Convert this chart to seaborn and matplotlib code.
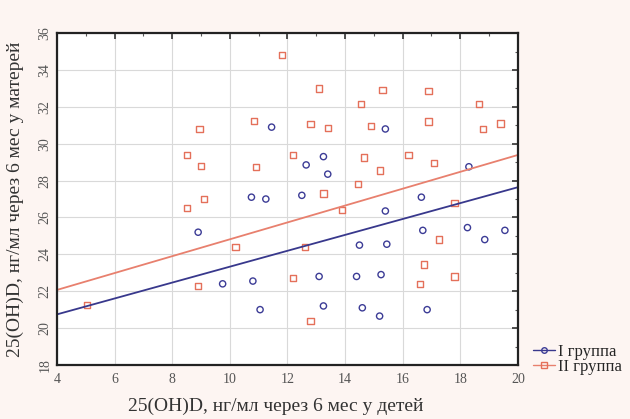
import numpy as np
import pandas as pd
import matplotlib
matplotlib.use("Agg")
import matplotlib.pyplot as plt
from matplotlib.lines import Line2D
from matplotlib.ticker import MultipleLocator
import seaborn as sns

# 25(OH)D levels 6 months on: children (x) vs mothers (y)
group_labels = ["I группа", "II группа"]

g1_children = [11.45, 13.25, 12.65, 13.4, 12.5, 10.75, 11.25, 15.4, 18.3, 16.65,
               8.9, 14.5, 9.75, 10.8, 13.1, 14.4, 11.05, 13.25, 15.4, 16.7,
               18.25, 19.55, 18.85, 15.45, 15.25, 14.6, 15.2, 16.85]
g1_mothers = [30.9, 29.3, 28.85, 28.35, 27.2, 27.1, 27.0, 30.8, 28.75, 27.1,
              25.2, 24.5, 22.4, 22.55, 22.8, 22.8, 21.0, 21.2, 26.35, 25.3,
              25.45, 25.3, 24.8, 24.55, 22.9, 21.1, 20.65, 21.0]

g2_children = [8.95, 8.5, 9.0, 9.1, 11.8, 13.1, 10.85, 12.8, 13.4, 12.2,
               10.9, 14.45, 13.25, 15.3, 16.9, 14.55, 18.65, 14.9, 16.9, 18.8,
               19.4, 14.65, 16.2, 17.1, 15.2, 8.5, 8.9, 5.05, 13.9, 10.2,
               12.6, 12.2, 12.8, 17.8, 17.25, 16.75, 17.8, 16.6]
g2_mothers = [30.8, 29.4, 28.8, 27.0, 34.8, 33.0, 31.25, 31.05, 30.85, 29.4,
              28.75, 27.8, 27.3, 32.9, 32.85, 32.15, 32.15, 30.95, 31.2, 30.8,
              31.1, 29.25, 29.4, 28.95, 28.55, 26.5, 22.3, 21.25, 26.4, 24.4,
              24.4, 22.7, 20.4, 26.8, 24.8, 23.45, 22.8, 22.4]

# linear fits (mother = intercept + slope * child) for each group
fit_intercept = [19.02, 20.24]
fit_slope = [0.431, 0.4575]

x_ticks = [4, 6, 8, 10, 12, 14, 16, 18, 20]
y_ticks = [18, 20, 22, 24, 26, 28, 30, 32, 34, 36]

colors = ["#3c3c96", "#e4705a"]
line_colors = ["#38388c", "#e8806e"]
markers = ["o", "s"]

sns.set_theme(style="white")
plt.rcParams["font.family"] = ["Liberation Serif", "DejaVu Serif"]

fig = plt.figure(figsize=(6.3, 4.19), dpi=100, facecolor="#fdf5f2")
ax = fig.add_axes([0.0905, 0.129, 0.7315, 0.792])
ax.set_facecolor("white")

ax.set_xlim(x_ticks[0], x_ticks[-1])
ax.set_ylim(y_ticks[0], y_ticks[-1])
ax.set_xticks(x_ticks)
ax.set_yticks(y_ticks)
ax.xaxis.set_minor_locator(MultipleLocator(1))
ax.yaxis.set_minor_locator(MultipleLocator(1))
ax.grid(True, which="major", color="#d9d9d9", linewidth=0.8)
ax.set_axisbelow(True)

groups = [(g1_children, g1_mothers), (g2_children, g2_mothers)]
line_x = np.array([x_ticks[0], x_ticks[-1]], dtype=float)
for i, (xs, ys) in enumerate(groups):
    sns.lineplot(x=line_x, y=fit_intercept[i] + fit_slope[i] * line_x,
                 color=line_colors[i], linewidth=1.3, ax=ax)
    sns.scatterplot(x=xs, y=ys, marker=markers[i], s=20, color=colors[i],
                    facecolor="none", edgecolor=colors[i], linewidth=1.0, ax=ax)

for sp in ax.spines.values():
    sp.set_color("#222222")
    sp.set_linewidth(1.6)

ax.tick_params(axis="both", which="major", direction="in", length=4, width=1.2,
               color="#333333", top=True, right=True, labelsize=10,
               labelcolor="#555555")
ax.tick_params(axis="both", which="minor", direction="in", length=2, width=0.8,
               color="#555555", top=True, right=True)
ax.tick_params(axis="x", which="major", pad=6)
ax.tick_params(axis="y", which="major", pad=4, labelrotation=90)
for lbl in ax.get_yticklabels():
    lbl.set_va("center")

ax.set_xlabel("25(OH)D, нг/мл через 6 мес у детей", fontsize=14, color="#333333")
ax.set_ylabel("25(OH)D, нг/мл через 6 мес у матерей", fontsize=14, color="#333333")
ax.xaxis.set_label_coords(0.475, -0.1)
ax.yaxis.set_label_coords(-0.072, 0.5)

handles = [Line2D([0], [0], color=line_colors[i], linewidth=1.0, marker=markers[i],
                  markersize=4, markerfacecolor="none", markeredgecolor=colors[i])
           for i in range(2)]
fig.legend(handles, group_labels, loc="center left", bbox_to_anchor=(0.833, 0.142),
           frameon=False, fontsize=12, handlelength=1.3, handletextpad=0.2,
           labelspacing=-0.05, borderpad=0.0)

fig.savefig("out.png", dpi=100, facecolor=fig.get_facecolor())
